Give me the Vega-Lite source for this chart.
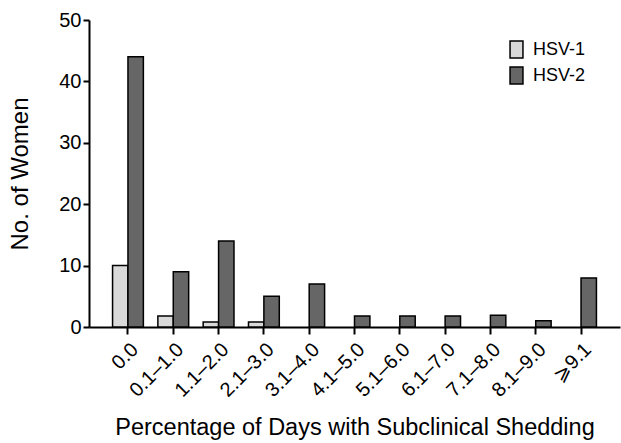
{
  "$schema": "https://vega.github.io/schema/vega-lite/v6.json",
  "width": 531,
  "height": 307,
  "autosize": "none",
  "padding": {"left": 89, "top": 20, "right": 1, "bottom": 116},
  "background": "white",
  "config": {
    "font": "Liberation Sans",
    "view": {"stroke": null},
    "axis": {"domainColor": "black", "tickColor": "black", "labelColor": "black", "titleColor": "black", "grid": false, "domainWidth": 2, "tickWidth": 2, "titleFontWeight": "normal"}
  },
  "data": {
    "values": [
      {"cat": "0.0", "type": "HSV-1", "n": 10},
      {"cat": "0.0", "type": "HSV-2", "n": 44},
      {"cat": "0.1–1.0", "type": "HSV-1", "n": 1.8},
      {"cat": "0.1–1.0", "type": "HSV-2", "n": 9},
      {"cat": "1.1–2.0", "type": "HSV-1", "n": 0.8},
      {"cat": "1.1–2.0", "type": "HSV-2", "n": 14},
      {"cat": "2.1–3.0", "type": "HSV-1", "n": 0.8},
      {"cat": "2.1–3.0", "type": "HSV-2", "n": 5},
      {"cat": "3.1–4.0", "type": "HSV-2", "n": 7},
      {"cat": "4.1–5.0", "type": "HSV-2", "n": 1.8},
      {"cat": "5.1–6.0", "type": "HSV-2", "n": 1.8},
      {"cat": "6.1–7.0", "type": "HSV-2", "n": 1.8},
      {"cat": "7.1–8.0", "type": "HSV-2", "n": 1.9},
      {"cat": "8.1–9.0", "type": "HSV-2", "n": 1},
      {"cat": "⩾9.1", "type": "HSV-2", "n": 8}
    ]
  },
  "mark": {"type": "bar", "stroke": "black", "strokeWidth": 1.5},
  "encoding": {
    "x": {
      "field": "cat", "type": "nominal", "sort": null,
      "scale": {"paddingInner": 0.32, "paddingOuter": 0.52},
      "axis": {"labelAngle": -45, "labelFontSize": 20, "tickSize": 7, "labelPadding": 5,
        "title": "Percentage of Days with Subclinical Shedding", "titleFontSize": 23.5, "titlePadding": 15}
    },
    "xOffset": {"field": "type", "scale": {"domain": ["HSV-1", "HSV-2"]}},
    "y": {
      "field": "n", "type": "quantitative",
      "scale": {"domain": [0, 50]},
      "axis": {"values": [0, 10, 20, 30, 40, 50], "labelFontSize": 20, "tickSize": 6, "labelPadding": 2,
        "title": "No. of Women", "titleFontSize": 24, "titlePadding": 26}
    },
    "fill": {
      "field": "type", "type": "nominal",
      "scale": {"domain": ["HSV-1", "HSV-2"], "range": ["#d9d9d9", "#666666"]},
      "legend": {"title": null, "orient": "none", "legendX": 418, "legendY": 20, "labelFontSize": 18, "labelColor": "black",
        "symbolType": "M-0.76,-1L0.76,-1L0.76,1L-0.76,1Z", "symbolSize": 289, "symbolStrokeColor": "black", "symbolStrokeWidth": 1.5, "rowPadding": 3, "labelOffset": 7}
    }
  }
}
